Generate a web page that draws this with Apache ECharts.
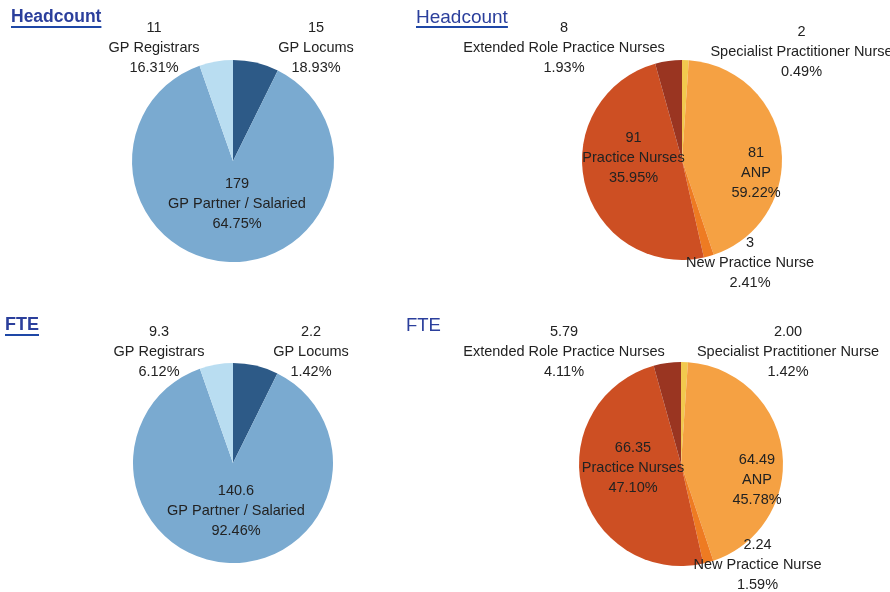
<!DOCTYPE html>
<html>
<head>
<meta charset="utf-8">
<script src="https://cdn.jsdelivr.net/npm/echarts@6/dist/echarts.min.js"></script>
<style>
html,body{margin:0;padding:0;background:#fff;}
#chart{width:890px;height:592px;}
</style>
</head>
<body>
<div id="chart"></div>
<script>
// ---- Data ----
var gpCategories = ['GP Locums', 'GP Partner / Salaried', 'GP Registrars'];
var gpHeadcount = [15, 179, 11];
var gpHeadcountPctLabels = ['18.93%', '64.75%', '16.31%'];
var gpFte = [2.2, 140.6, 9.3];
var gpFtePctLabels = ['1.42%', '92.46%', '6.12%'];

var nurseCategories = ['Specialist Practitioner Nurse', 'ANP', 'New Practice Nurse', 'Practice Nurses', 'Extended Role Practice Nurses'];
var nurseHeadcount = [2, 81, 3, 91, 8];
var nurseHeadcountPctLabels = ['0.49%', '59.22%', '2.41%', '35.95%', '1.93%'];
var nurseFte = [2.00, 64.49, 2.24, 66.35, 5.79];
var nurseFtePctLabels = ['1.42%', '45.78%', '1.59%', '47.10%', '4.11%'];

var panelTitles = ['Headcount', 'Headcount', 'FTE', 'FTE'];

// ---- Styles / layout ----
var gpColors = ['#2D5A87', '#7AAAD0', '#B9DDF1'];
var nurseColors = ['#F2C94E', '#F5A143', '#EE7B22', '#CD4F23', '#9A3521'];
var FONT = '"Liberation Sans", Arial, sans-serif';
var LABEL_DY = 1.5;

var panels = [
  { center: [233, 161], radius: 101, cats: gpCategories, sizes: gpHeadcount, vals: gpHeadcount, dec: 0, pcts: gpHeadcountPctLabels, colors: gpColors,
    offs: [[83, -115], [4, 41], [-79, -115]] },
  { center: [682, 160], radius: 100, cats: nurseCategories, sizes: nurseHeadcount, vals: nurseHeadcount, dec: 0, pcts: nurseHeadcountPctLabels, colors: nurseColors,
    offs: [[119.5, -110], [74, 11.5], [68, 101], [-48.5, -3.5], [-118, -113.5]] },
  // The reference draws the FTE pies with the same slice proportions as the headcount pies
  { center: [233, 463], radius: 100, cats: gpCategories, sizes: gpHeadcount, vals: gpFte, dec: 1, pcts: gpFtePctLabels, colors: gpColors,
    offs: [[78, -113], [3, 46.5], [-74, -113]] },
  { center: [681, 464], radius: 102, cats: nurseCategories, sizes: nurseHeadcount, vals: nurseFte, dec: 2, pcts: nurseFtePctLabels, colors: nurseColors,
    offs: [[107, -114], [76, 14], [76.5, 99], [-48, 2.5], [-117, -114]] }
];

var series = panels.map(function (p, si) {
  return {
    type: 'pie',
    center: p.center,
    radius: p.radius,
    startAngle: 90,
    clockwise: true,
    silent: true,
    animation: false,
    avoidLabelOverlap: false,
    itemStyle: { borderWidth: 0 },
    label: {
      show: true,
      position: 'inside',
      fontFamily: FONT,
      fontSize: 14.5,
      lineHeight: 20,
      color: '#222',
      align: 'center',
      formatter: function (params) {
        var i = params.dataIndex;
        return p.vals[i].toFixed(p.dec) + '\n' + p.cats[i] + '\n' + p.pcts[i];
      }
    },
    labelLine: { show: false },
    labelLayout: function (params) {
      var o = p.offs[params.dataIndex];
      return { x: p.center[0] + o[0], y: p.center[1] + o[1] + LABEL_DY, align: 'center', verticalAlign: 'middle' };
    },
    data: p.sizes.map(function (v, i) {
      return { name: p.cats[i], value: v, itemStyle: { color: p.colors[i] } };
    })
  };
});

var titleDefs = [
  { x: 11, y: 17, bold: true, underline: true, fs: 17.5 },
  { x: 416, y: 17, bold: false, underline: true, fs: 19 },
  { x: 5, y: 325, bold: true, underline: true, fs: 18 },
  { x: 406, y: 325, bold: false, underline: false, fs: 18.5 }
];

var ctx = document.createElement('canvas').getContext('2d');
var graphics = [];
titleDefs.forEach(function (t, i) {
  var font = (t.bold ? 'bold ' : '') + t.fs + 'px ' + FONT;
  graphics.push({
    type: 'text',
    left: t.x,
    top: t.y - 9,
    style: { text: panelTitles[i], font: font, fill: '#2B3F9C' }
  });
  if (t.underline) {
    ctx.font = font;
    var w = ctx.measureText(panelTitles[i]).width;
    graphics.push({
      type: 'rect',
      left: t.x,
      top: t.y + 9,
      shape: { width: w, height: 2 },
      style: { fill: '#1E47A6' }
    });
  }
});

var chart = echarts.init(document.getElementById('chart'), null, { renderer: 'canvas' });
chart.setOption({
  backgroundColor: '#ffffff',
  animation: false,
  series: series,
  graphic: graphics
});
</script>
</body>
</html>
